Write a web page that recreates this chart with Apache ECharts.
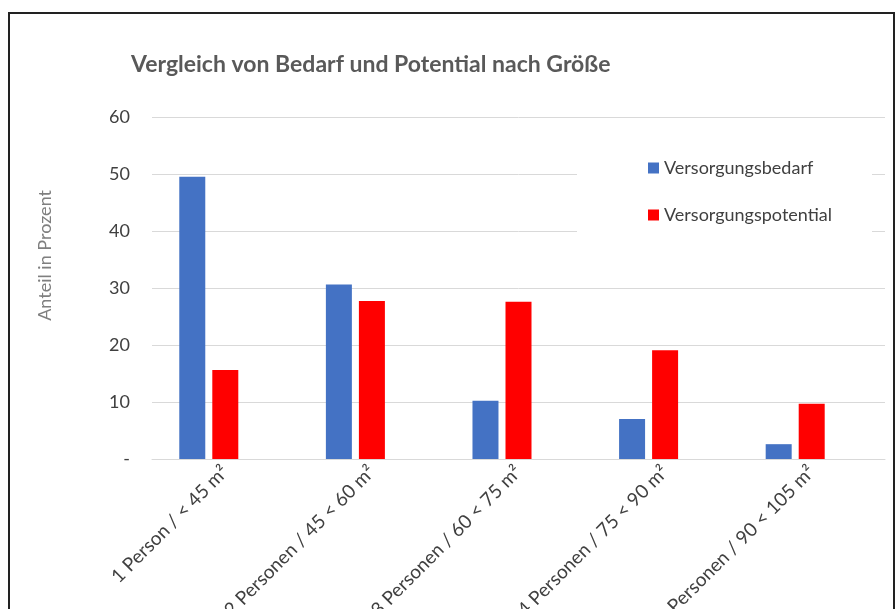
<!DOCTYPE html>
<html>
<head>
<meta charset="utf-8">
<script src="https://cdn.jsdelivr.net/npm/echarts@6/dist/echarts.min.js"></script>
<style>
    html, body { margin: 0; padding: 0; background: #fff; }
    #rahmen {
        position: absolute; left: 8px; top: 12px; width: 883px; height: 620px;
        border-top: 2px solid #222; border-left: 2px solid #222; border-right: 2px solid #222;
    }
    #chart { position: absolute; left: 0; top: 0; width: 895px; height: 609px; }
</style>
</head>
<body>
<div id="rahmen"></div>
<div id="chart"></div>
<script>
var kategorien = ['1 Person / < 45 m²', '2 Personen / 45 < 60 m²', '3 Personen / 60 < 75 m²',
    '4 Personen / 75 < 90 m²', '5 Personen / 90 < 105 m²'];
var bedarf = [49.5, 30.6, 10.2, 7.0, 2.6];
var potential = [15.6, 27.7, 27.6, 19.1, 9.7];

var font = 'Lato, "Noto Sans", sans-serif';
var myChart = echarts.init(document.getElementById('chart'));
var option = {
    animation: false,
    color: ['#4472c4', '#ff0000'],
    title: {
        text: 'Vergleich von Bedarf und Potential nach Größe',
        left: 131,
        top: 53,
        padding: 0,
        textStyle: { fontFamily: font, fontSize: 23, fontWeight: 'bold', color: '#595959' }
    },
    legend: {
        orient: 'vertical',
        left: 577,
        top: 135,
        padding: [22, 40, 30, 71],
        backgroundColor: '#fff',
        itemWidth: 11,
        itemHeight: 11,
        itemGap: 25,
        icon: 'rect',
        data: ['Versorgungsbedarf', 'Versorgungspotential'],
        textStyle: { fontFamily: font, fontSize: 18, color: '#404040', lineHeight: 22 }
    },
    graphic: [{
        type: 'text',
        left: 36,
        top: 190,
        rotation: Math.PI / 2,
        style: { text: 'Anteil in Prozent', fontFamily: font, fontSize: 18, fill: '#7f7f7f' }
    }],
    grid: { left: 152, right: 10, top: 117, bottom: 150, outerBoundsMode: 'none' },
    xAxis: {
        type: 'category',
        data: kategorien,
        axisLine: { lineStyle: { color: '#d9d9d9' } },
        axisTick: { show: false },
        axisLabel: { rotate: 45, margin: 10, fontFamily: font, fontSize: 19, color: '#404040', interval: 0 }
    },
    yAxis: {
        type: 'value',
        min: 0,
        max: 60,
        interval: 10,
        axisLine: { show: false },
        axisTick: { show: false },
        splitLine: { lineStyle: { color: '#d9d9d9' } },
        axisLabel: {
            margin: 22, fontFamily: font, fontSize: 18, color: '#404040',
            formatter: function (v) { return v === 0 ? '-' : v; }
        }
    },
    series: [{
        name: 'Versorgungsbedarf',
        type: 'bar',
        barWidth: 26,
        barGap: '27%',
        data: bedarf
    }, {
        name: 'Versorgungspotential',
        type: 'bar',
        barWidth: 26,
        barGap: '27%',
        data: potential
    }, {
        // leere dritte Reihe, damit die Balken wie im Original versetzt sitzen
        name: 'leer',
        type: 'bar',
        barWidth: 26,
        barGap: '27%',
        data: []
    }]
};
myChart.setOption(option);
</script>
</body>
</html>
